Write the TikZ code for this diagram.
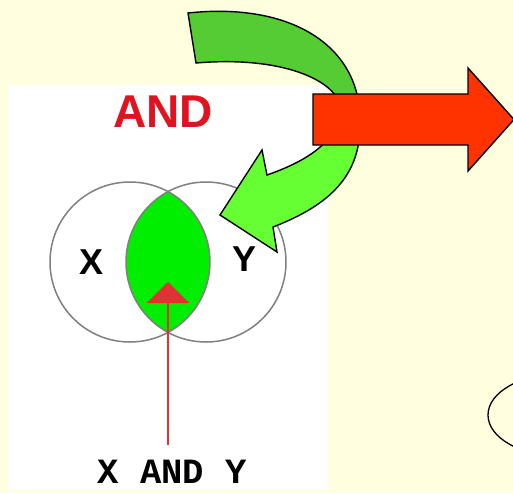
\documentclass[tikz,border=0pt]{standalone}
\usepackage{fontspec}
\setmainfont{Liberation Sans}
\newfontfamily\courierbold{Liberation Mono}
\usetikzlibrary{arrows.meta}
\definecolor{paper}{HTML}{FFFFE0}
\definecolor{andred}{HTML}{E01420}
\definecolor{lensgreen}{HTML}{00EE00}
\definecolor{arrowred}{HTML}{FF3300}
\definecolor{greendark}{HTML}{55CC33}
\definecolor{greenlight}{HTML}{66FF33}
\definecolor{pointerred}{HTML}{E03232}
\newcommand{\bentarrow}{(188,13) .. controls (290,2) and (360,45) .. (360,120)
  .. controls (362,175) and (330,205) .. (273,227) -- (277,252) -- (220,215)
  -- (262,150) -- (267,175) .. controls (310,160) and (338,140) .. (340,110)
  .. controls (342,85) and (290,55) .. (196,63) -- cycle}

\begin{document}
\begin{tikzpicture}[x=1pt,y=-1pt,
  venn/.style={circle,draw=black!50,line width=1.5pt,minimum size=160pt,inner sep=0pt},
  setlabel/.style={font=\fontsize{36}{36}\selectfont\bfseries},
  block/.style={draw=black,line width=1.4pt,line join=miter}
]
  \clip (0,0) rectangle (513,493);
  \fill[paper] (0,0) rectangle (513,493);
  \fill[white] (8,85) rectangle (328,490);

  % venn diagram
  \begin{scope}
    \clip (130,262) circle (80pt);
    \fill[lensgreen] (206,262) circle (80pt);
  \end{scope}
  \node[venn] (setx) at (130,262) {};
  \node[venn] (sety) at (206,262) {};
  \node[setlabel] (xlab) at (92,262) {X};
  \node[setlabel] (ylab) at (245,259) {Y};
  \node[font=\fontsize{46}{46}\selectfont\bfseries,text=andred] (title) at (163,112) {AND};
  \node[font=\courierbold\fontsize{35.5}{36}\selectfont\bfseries] (result) at (172,472) {X AND Y};

  \coordinate (stem) at (168,445);
  \coordinate (tip) at (168,282);
  \draw[pointerred,line width=2pt,-{Triangle[width=42pt,length=21pt]}] (stem) -- (tip);

  % bent green arrow, two tones
  \fill[greenlight] \bentarrow;
  \begin{scope}
    \clip (0,0) rectangle (513,118);
    \fill[greendark] \bentarrow;
  \end{scope}
  \draw[block] \bentarrow;

  % red block arrow
  \draw[block,fill=arrowred] (313,94) -- (468,94) -- (468,68) -- (514,119.5)
    -- (468,171) -- (468,145) -- (313,145) -- cycle;

  \draw[line width=1.3pt] (560,415) ellipse [x radius=72pt, y radius=41pt];
\end{tikzpicture}
\end{document}
